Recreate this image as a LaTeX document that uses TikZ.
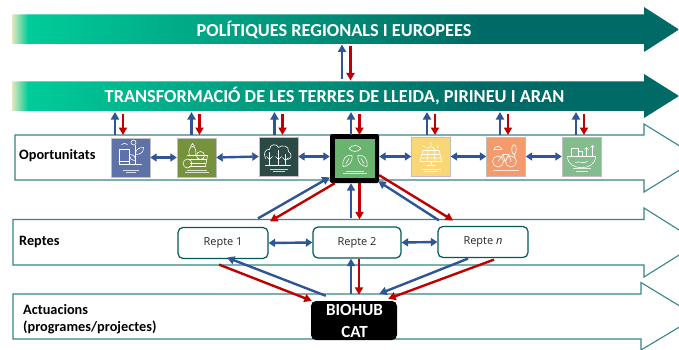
\documentclass[tikz,border=0pt]{standalone}
\usepackage{fontspec}
\setmainfont{Carlito}
\newfontfamily\reptefont{Open Sans}
\usetikzlibrary{arrows.meta,calc}
\definecolor{tealline}{HTML}{3A8585}
\definecolor{bluearr}{HTML}{2F5597}
\definecolor{redarr}{HTML}{C00000}
\definecolor{bpale}{HTML}{E6E8BC}
\definecolor{bgreen}{HTML}{00CC99}
\definecolor{bdark}{HTML}{006B66}
\pgfdeclarehorizontalshading{bandfade}{100bp}{color(0bp)=(bpale); color(25bp)=(bpale); color(26.2bp)=(bgreen); color(60bp)=(bdark); color(100bp)=(bdark)}
\tikzset{
  x=1pt,y=-1pt,
  solidband/.style={shading=bandfade,draw=none},
  outlineband/.style={draw=tealline,line width=1.1pt,fill=white,line join=miter},
  bandtitle/.style={text=white,font=\bfseries\fontsize{18.3}{20}\selectfont,inner sep=0pt},
  rowlabel/.style={anchor=west,font=\bfseries\fontsize{14.3}{16}\selectfont,inner sep=0pt,align=left},
  icon/.style={minimum width=39pt,minimum height=39pt,inner sep=0pt,draw=black!25,line width=.4pt},
  repte/.style={draw=teal!70!black,line width=1.2pt,rounded corners=5pt,fill=white,minimum width=90pt,minimum height=31pt,inner sep=0pt,font=\reptefont\fontsize{11}{13}\selectfont,text=black!85},
  bl/.style={draw=bluearr,line width=2.4pt,-{Triangle[width=8pt,length=7.5pt]}},
  rd/.style={draw=redarr,line width=2.4pt,-{Triangle[width=8pt,length=7.5pt]}},
  bib/.style={draw=bluearr,line width=2.4pt,{Triangle[width=8pt,length=6.5pt]}-{Triangle[width=8pt,length=6.5pt]}},
  glyph/.style={draw=white,line width=.6pt,fill=none,line cap=round,line join=round},
  fine/.style={draw=white,line width=.5pt,opacity=.75},
}
\begin{document}
\begin{tikzpicture}
\useasboundingbox (0,0) rectangle (679,350);
\clip (0,0) rectangle (679,350);
\fill[white] (0,0) rectangle (679,350);

% solid arrows
\path[solidband] (12,14.5) -- (644,14.5) -- (644,7) -- (679,29.5) -- (644,52) -- (644,44) -- (12,44) -- cycle;
\path[solidband] (12,81.5) -- (644,81.5) -- (644,74) -- (679,96) -- (644,118) -- (644,111) -- (12,111) -- cycle;
\node[bandtitle] (titleA) at (334,29.5) {POLÍTIQUES REGIONALS I EUROPEES};
\node[bandtitle] (titleB) at (334.5,96) {TRANSFORMACIÓ DE LES TERRES DE LLEIDA, PIRINEU I ARAN};
\coordinate (bandAbot) at (346,44.5);
\coordinate (bandBtop) at (346,80.5);
\coordinate (bandBbot) at (0,111.5);
\coordinate (rowtop) at (0,135);

% outline arrows
\path[outlineband] (15,135) -- (644,135) -- (644,124) -- (699,158) -- (644,192) -- (644,180) -- (15,180) -- cycle;
\path[outlineband] (13,219.5) -- (644,219.5) -- (644,208) -- (699,242.5) -- (644,277) -- (644,265) -- (13,265) -- cycle;
\path[outlineband] (13,294) -- (641,294) -- (641,282.5) -- (697,316.5) -- (641,350) -- (641,339) -- (13,339) -- cycle;

\node[rowlabel] (lo) at (19,155.5) {Oportunitats};
\node[rowlabel] (lr) at (19,241.5) {Reptes};
\node[rowlabel] (la1) at (23,309.5) {Actuacions};
\node[rowlabel] (la2) at (23,327) {(programes/projectes)};

% icons
\node[icon,fill={rgb,255:red,95;green,114;blue,168}] (i1) at (130.5,157.5) {};
\node[icon,fill={rgb,255:red,118;green,146;blue,60}] (i2) at (196.5,157.5) {};
\node[icon,fill={rgb,255:red,44;green,74;blue,69}] (i3) at (278.5,156.5) {};
\node[minimum width=49pt,minimum height=49pt,inner sep=0pt,fill=black,rounded corners=2pt] (frame) at (354.5,158.5) {};
\node[minimum width=40pt,minimum height=39pt,inner sep=0pt,fill={rgb,255:red,107;green,180;blue,111}] (i4) at (355,158.5) {};
\node[icon,fill={rgb,255:red,249;green,215;blue,118}] (i5) at (431,156.5) {};
\node[icon,fill={rgb,255:red,243;green,155;blue,109}] (i6) at (506,156.5) {};
\node[icon,fill={rgb,255:red,132;green,188;blue,142}] (i7) at (581.5,156.5) {};

% icon art
\begin{scope}[shift={(i1.center)}]
  \draw[glyph] (-11.5,-8.5) rectangle (-1.5,7);
  \draw[glyph] (-11.5,4) -- (-1.5,4);
  \draw[glyph] (-9,-13) .. controls (-7,-14.5) and (-5,-14.5) .. (-3,-13);
  \draw[glyph] (5,-12) -- (5,7) (0,7) -- (11,7);
  \draw[glyph] (5,-3) .. controls (11,-3) and (13,-6) .. (13,-10) .. controls (8,-10) and (5,-8) .. (5,-3);
  \draw[glyph] (5,3) .. controls (1,3) and (-1,1) .. (-1,-3) .. controls (3,-3) and (5,-1) .. (5,3);
  \draw[glyph] (3,-15) circle (2.5);
  \draw[fine] (-8,12.5) -- (8,12.5) (-5,14.5) -- (5,14.5);
\end{scope}
\begin{scope}[shift={(i2.center)}]
  \draw[glyph] (-9,-2) -- (11,-2) -- (9,9) -- (-7,9);
  \draw[glyph] (-7,2) -- (10,2) (-6,6) -- (9,6);
  \draw[glyph] (-9,6) circle (4.5);
  \draw[glyph] (-7,-2) .. controls (-9,-7) and (-6,-11) .. (-4,-11) .. controls (-1,-11) and (0,-6) .. (-1,-2);
  \draw[glyph] (4,-2) circle[radius=4];
  \draw[glyph] (-6,-11) -- (-4,-14) -- (-2,-11);
  \draw[fine] (-10,12.5) -- (10,12.5) (-12,14.5) -- (12,14.5);
\end{scope}
\begin{scope}[shift={(i3.center)}]
  \draw[glyph] (-13,2) .. controls (-16,-4) and (-12,-8) .. (-9,-7) .. controls (-9,-13) and (-1,-13) .. (0,-9) .. controls (3,-12) and (11,-11) .. (10,-5) .. controls (14,-3) and (13,3) .. (9,3);
  \draw[glyph] (-9,9) -- (-9,-4) (0,9) -- (0,-6) (7,9) -- (7,-2);
  \draw[glyph] (-13,9) -- (12,9) (-9,3) -- (-12,0) (-9,3) -- (-6,0) (0,3) -- (-3,0) (0,3) -- (3,0) (7,4) -- (4,1) (7,4) -- (10,1);
  \draw[fine] (-9,13) -- (9,13) (-6,15) -- (6,15);
\end{scope}
\begin{scope}[shift={(i4.center)}]
  \draw[glyph] (-6,-10) .. controls (-3,-14) and (3,-14) .. (6,-10) .. controls (3,-6) and (-3,-6) .. (-6,-10);
  \draw[glyph] (-3,-3) .. controls (-9,-4) and (-13,0) .. (-12,8) .. controls (-7,8) and (-2,4) .. (-3,-3);
  \draw[glyph] (3,-3) .. controls (9,-4) and (13,0) .. (12,8) .. controls (7,8) and (2,4) .. (3,-3);
  \draw[glyph] (-9,5) -- (-6,0) (9,5) -- (6,0);
  \draw[fine] (-9,12.5) -- (9,12.5) (-12,14.5) -- (12,14.5);
\end{scope}
\begin{scope}[shift={(i5.center)}]
  \draw[glyph] (-8,-6) -- (8,-6) -- (11,5) -- (-11,5) -- cycle;
  \draw[glyph] (-9,-2) -- (9,-2) (-10,1.5) -- (10,1.5) (-3,-6) -- (-4,5) (3,-6) -- (4,5);
  \draw[glyph] (-4,-6) .. controls (-4,-11) and (4,-11) .. (4,-6);
  \draw[glyph] (0,-11) -- (0,-14) (-6,-9) -- (-8,-11) (6,-9) -- (8,-11);
  \draw[glyph] (0,5) -- (0,9) (-4,9) -- (4,9);
  \draw[fine] (-10,13) -- (10,13) (-7,15) -- (7,15);
\end{scope}
\begin{scope}[shift={(i6.center)}]
  \draw[glyph] (-8,5) circle (5.5) (5,5) circle (5.5);
  \draw[glyph] (-8,5) -- (-3,-2) -- (3,-2) -- (5,5) (-3,-2) -- (-1,5) -- (3,-2);
  \draw[glyph] (8,-12) .. controls (5,-12) and (5,-2) .. (8,-2) .. controls (11,-2) and (11,-12) .. (8,-12);
  \draw[glyph] (8,-2) -- (8,0);
  \draw[glyph] (-12,-7) .. controls (-12,-11) and (-5,-11) .. (-4,-7) -- cycle;
  \draw[fine] (-13,13.5) -- (13,13.5);
\end{scope}
\begin{scope}[shift={(i7.center)}]
  \draw[glyph] (-14,0) .. controls (-14,15) and (14,15) .. (14,0) -- cycle;
  \draw[glyph] (-10,0) -- (-10,-8) -- (-3,-8) -- (-3,0) (-3,-5) -- (1,-5) -- (1,0);
  \draw[glyph] (5,0) -- (5,-9) (11,0) -- (11,-11) (3,-7) -- (5,-9) -- (7,-7) (9,-9) -- (11,-11) -- (13,-9);
  \draw[glyph] (-6,6) .. controls (-2,4) and (2,8) .. (6,5);
  \draw[fine] (-9,12) -- (9,12) (-6,14.5) -- (6,14.5);
\end{scope}

% Repte nodes and BIOHUB
\node[repte] (r1) at (223,243) {Repte 1};
\node[repte,minimum width=88pt] (r2) at (357,242.5) {Repte 2};
\node[repte] (rn) at (483,242) {Repte \textit{n}};
\node[fill=black,rounded corners=5pt,minimum width=86pt,minimum height=39pt,inner sep=0pt] (b) at (354,320.5) {};
\node[text=white,font=\bfseries\fontsize{17}{20}\selectfont,inner sep=0pt] (bt1) at (354.5,310) {BIOHUB};
\node[text=white,font=\bfseries\fontsize{17}{20}\selectfont,inner sep=0pt] (bt2) at (354.5,332) {CAT};

% top pair
\draw[bl] ($(bandBtop)+(-4,-1.5)$) -- ($(bandAbot)+(-4,0)$);
\draw[rd] ($(bandAbot)+(4.5,1.5)$) -- ($(bandBtop)+(4.5,0)$);

% pairs between band and icons
\foreach \n/\bx/\rx in {i1/-15.5/-7.5,i2/-5/3,i3/-4/4,frame/-3.5/5,i5/-4/4,i6/-6/2,i7/-5.5/2.5}{
  \draw[bl] ($(\n.north |- rowtop)+(\bx,0)$) -- ($(\n.north |- bandBbot)+(\bx,0.5)$);
  \draw[rd] ($(\n.north |- bandBbot)+(\rx,2.5)$) -- ($(\n.north |- rowtop)+(\rx,0)$);
}

% horizontal links between icons
\draw[bib] (i1.east) -- (i2.west);
\draw[bib] (i2.east) -- (i3.west);
\draw[bib] (i3.east) -- (frame.west |- i3.east);
\draw[bib] (frame.east |- i5.west) -- (i5.west);
\draw[bib] (i5.east) -- (i6.west);
\draw[bib] (i6.east) -- (i7.west);

% frame to Reptes
\draw[bl] ([shift={(35,-8.5)}]r1.north) -- ([shift={(0,-6)}]frame.south west);
\draw[rd] ([shift={(5,0)}]frame.south west) -- ([shift={(47,-5.5)}]r1.north);
\draw[bl] ([shift={(-6,-8)}]r2.north) -- ([shift={(-3.5,0)}]frame.south);
\draw[rd] ([shift={(5,0)}]frame.south) -- ([shift={(2.5,-7)}]r2.north);
\draw[bl] ([shift={(-44,-5.5)}]rn.north) -- ([shift={(-1,-2)}]frame.south east);
\draw[rd] ([shift={(0,-8)}]frame.south east) -- ([shift={(-30,-5.5)}]rn.north);

% Repte links
\draw[bib] (r1.east) -- (r2.west);
\draw[bib] (r2.east) -- (rn.west);

% BIOHUB to Reptes
\draw[bl] ([shift={(15,-5)}]b.north west) -- ([shift={(4,-1.5)}]r1.south);
\draw[rd] ([shift={(-4,5.5)}]r1.south) -- ([shift={(1,0)}]b.north west);
\draw[bl] ([shift={(-3,-7)}]b.north) -- ([shift={(-6,0)}]r2.south);
\draw[rd] ([shift={(2,0)}]r2.south) -- ([shift={(5,-6)}]b.north);
\draw[bl] ([shift={(-15,0.5)}]rn.south) -- ([shift={(-18,-7)}]b.north east);
\draw[rd] ([shift={(11,1.5)}]rn.south) -- ([shift={(-9,-2)}]b.north east);
\end{tikzpicture}
\end{document}
